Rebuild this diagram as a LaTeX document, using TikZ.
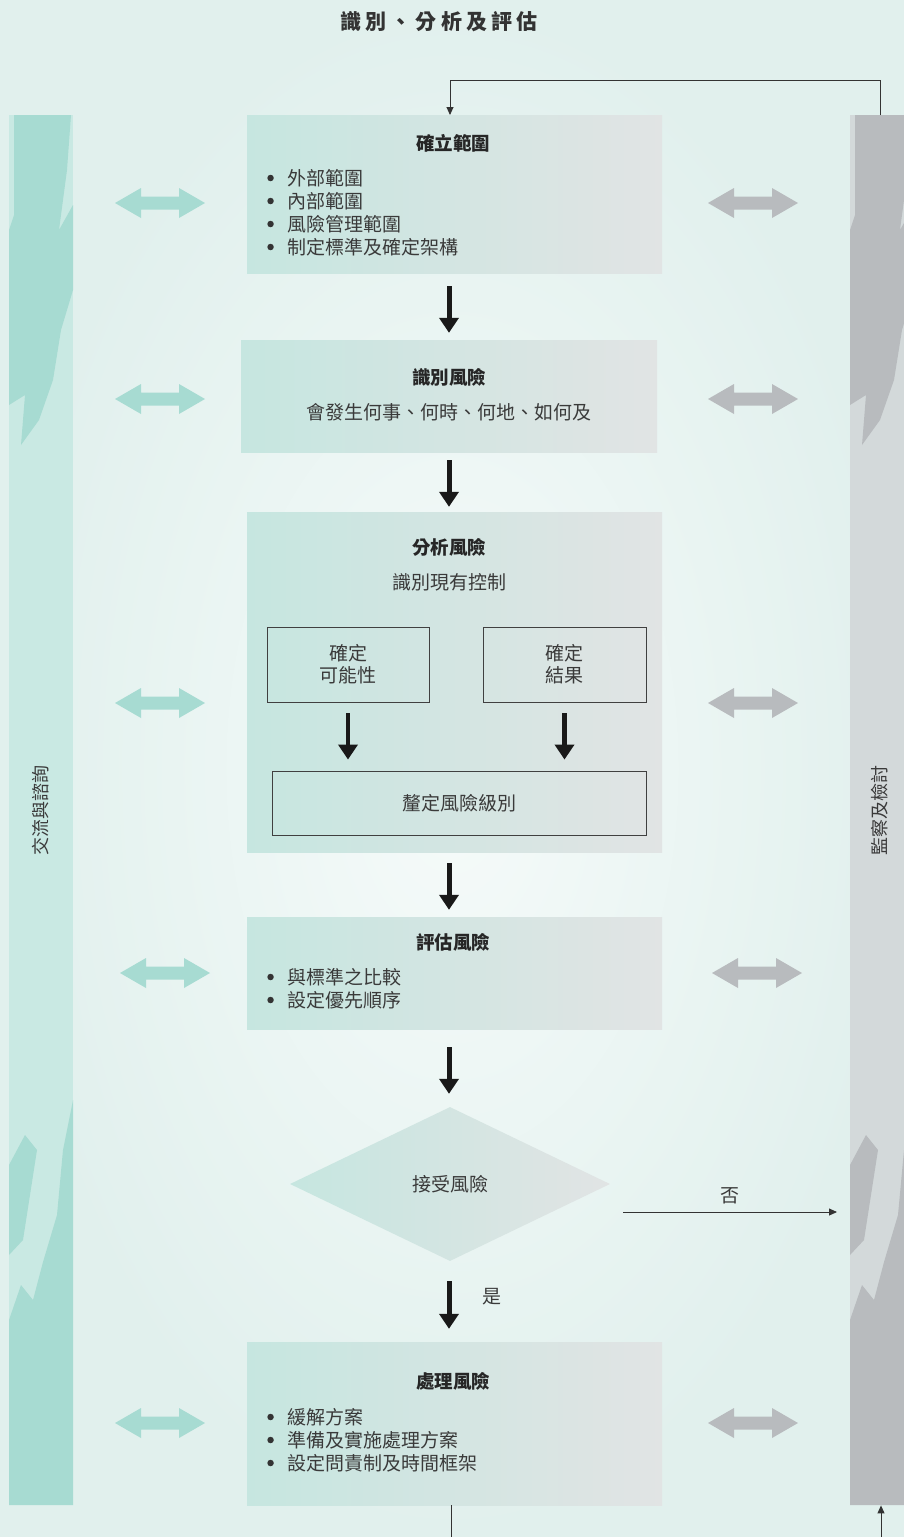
\documentclass[tikz,border=0pt]{standalone}
\usepackage{fontspec}
\setmainfont{Noto Sans CJK TC}
\usetikzlibrary{arrows.meta,shapes.geometric,calc}
\definecolor{bgout}{HTML}{E1F0ED}
\definecolor{bgin}{HTML}{F6FBFA}
\definecolor{tealdark}{HTML}{A7DBD2}
\definecolor{teallight}{HTML}{C9E9E3}
\definecolor{graydark}{HTML}{B8BBBE}
\definecolor{graylight}{HTML}{D3D9DA}
\definecolor{boxl}{HTML}{C6E6E0}
\definecolor{boxr}{HTML}{E1E4E4}
\definecolor{txt}{HTML}{3A3A3A}
\newcommand\barpatch{%
  \fill (5,115) -- (62,115) -- (58,170) -- (50,230) -- (64,205) -- (64,290)
     -- (52,330) -- (44,380) -- (30,420) -- (12,445) -- (16,395) -- (0,405) -- (0,230) -- (5,215) -- cycle;
  \fill (0,1505) -- (64,1505) -- (64,1100) -- (54,1150) -- (48,1215) -- (34,1262)
     -- (24,1300) -- (12,1285) -- (0,1320) -- cycle;
  \fill (0,1165) -- (16,1135) -- (28,1150) -- (14,1240) -- (0,1255) -- cycle;
}
\tikzset{
  box/.style={rectangle, inner sep=0pt, left color=boxl, right color=boxr, draw=none},
  sub/.style={rectangle, draw=black!75, line width=0.9pt, inner sep=0pt},
  ttl/.style={font=\fontsize{18.5}{20}\selectfont\bfseries, text=black!85, inner sep=0pt},
  body/.style={font=\fontsize{19}{22}\selectfont, text=txt, inner sep=0pt},
  bulletdot/.style={circle, fill=black!80, minimum size=6.5pt, inner sep=0pt},
  item/.style={body, anchor=west, label={[bulletdot, label distance=13pt]left:{}}},
  bigarrow/.style={line width=5pt, draw=black!90, -{Triangle[width=19pt,length=15pt]}},
  fline/.style={line width=0.9pt, draw=black!80},
  smalltip/.style={-{Triangle[width=7pt,length=8pt]}},
  sidetext/.style={font=\fontsize{18}{18}\selectfont, text=txt, rotate=90, inner sep=0pt},
  dbl/.pic={\fill[#1] (-45,0) -- (-19,-15) -- (-19,-6.5) -- (19,-6.5) -- (19,-15)
     -- (45,0) -- (19,15) -- (19,6.5) -- (-19,6.5) -- (-19,15) -- cycle;}
}
\begin{document}
\begin{tikzpicture}[x=1pt,y=-1pt]
\useasboundingbox (0,0) rectangle (904,1537);
\shade[inner color=bgin, outer color=bgout] (0,0) rectangle (904,1537);
% title
\node[font=\fontsize{21}{21}\selectfont\bfseries\addfontfeature{LetterSpace=20}, text=black!80, inner sep=0pt] (title) at (439,22) {識別、分析及評估};
% side bars
\node[rectangle, fill=teallight, minimum width=64pt, minimum height=1390pt, inner sep=0pt, anchor=north west] (lbar) at (9,115) {};
\begin{scope}
  \clip (lbar.north west) rectangle (lbar.south east);
  \begin{scope}[shift={(9,0)}, fill=tealdark]\barpatch\end{scope}
\end{scope}
\node[rectangle, fill=graylight, minimum width=54pt, minimum height=1390pt, inner sep=0pt, anchor=north west] (rbar) at (850,115) {};
\begin{scope}
  \clip (rbar.north west) rectangle (rbar.south east);
  \begin{scope}[shift={(850,0)}, fill=graydark]\barpatch\end{scope}
\end{scope}
\node[sidetext] (ltxt) at (41,810) {交流與諮詢};
\node[sidetext] (rtxt) at (880,810) {監察及檢討};
% boxes
\node[box, minimum width=415pt, minimum height=158pt] (b1) at (454.5,194) {};
\node[box, minimum width=416pt, minimum height=112pt] (b2) at (449,396) {};
\node[box, minimum width=415pt, minimum height=340pt] (b3) at (454.5,682) {};
\node[box, minimum width=415pt, minimum height=112pt] (b4) at (454.5,973) {};
\node[diamond, aspect=2.08, minimum width=320pt, minimum height=154pt, inner sep=0pt, left color=boxl, right color=boxr] (dia) at (450,1184) {};
\node[box, minimum width=415pt, minimum height=163pt] (b5) at (454.5,1423.5) {};
% box 1
\node[ttl] (t1) at (453,143) {確立範圍};
\node[item] (i11) at (287,178) {外部範圍};
\node[item] (i12) at (287,201) {內部範圍};
\node[item] (i13) at (287,224) {風險管理範圍};
\node[item] (i14) at (287,247) {制定標準及確定架構};
% box 2
\node[ttl] (t2) at (449,377) {識別風險};
\node[body] (d2) at (449,412) {會發生何事、何時、何地、如何及};
% box 3
\node[ttl] (t3) at (449,547) {分析風險};
\node[body] (d3) at (449,582) {識別現有控制};
\node[sub, minimum width=162pt, minimum height=75pt] (s1) at (348,664.5) {};
\node[sub, minimum width=163pt, minimum height=75pt] (s2) at (564.5,664.5) {};
\node[sub, minimum width=374pt, minimum height=64pt] (s3) at (459,803) {};
\node[body, align=center] (s1t) at (s1.center) {確定\\可能性};
\node[body, align=center] (s2t) at (s2.center) {確定\\結果};
\node[body] (s3t) at (s3.center) {釐定風險級別};
% box 4
\node[ttl] (t4) at (453,942) {評估風險};
\node[item] (i41) at (287,977) {與標準之比較};
\node[item] (i42) at (287,1000) {設定優先順序};
% diamond text
\node[body] (dt) at (dia.center) {接受風險};
% box 5
\node[ttl] (t5) at (453,1381) {處理風險};
\node[item] (i51) at (287,1417) {緩解方案};
\node[item] (i52) at (287,1440) {準備及實施處理方案};
\node[item] (i53) at (287,1463) {設定問責制及時間框架};
% main arrows
\coordinate (col) at (449,0);
\draw[bigarrow, shorten <=13pt, shorten >=7pt] (b1.south -| col) -- (b2.north -| col);
\draw[bigarrow, shorten <=8pt, shorten >=5pt] (b2.south -| col) -- (b3.north -| col);
\draw[bigarrow, shorten <=11pt, shorten >=7pt] (b3.south -| col) -- (b4.north -| col);
\draw[bigarrow, shorten <=18pt, shorten >=13pt] (b4.south -| col) -- (dia.north -| col);
\draw[bigarrow, shorten <=20pt, shorten >=13pt] (dia.south -| col) -- (b5.north -| col);
\node[body] (yes) at (492,1297) {是};
\draw[bigarrow, line width=4.5pt, shorten <=11pt, shorten >=11pt] (s1.south) -- (s3.north -| s1.south);
\draw[bigarrow, line width=4.5pt, shorten <=11pt, shorten >=11pt] (s2.south) -- (s3.north -| s2.south);
% no arrow
\coordinate (no1) at (623,1212);
\draw[fline, smalltip, shorten >=13pt] (no1) -- (rbar.west |- no1);
\node[body] (no) at (730,1196) {否};
% feedback loop
\coordinate (fb) at (880,80);
\coordinate (b1in) at (450,115);
\draw[fline, smalltip] (rbar.north -| fb) -- (fb) -| (b1in);
\coordinate (bot1) at (451,1537);
\coordinate (bot2) at (881,1537);
\draw[fline] (b5.south -| bot1) -- (bot1);
\draw[fline, smalltip] (bot2) -- (rbar.south -| bot2);
% double arrows
\foreach \y/\xl/\xr in {203/160/753, 399/160/753, 703/160/753, 973/165/757, 1423/160/753}{
  \pic at (\xl,\y) {dbl=tealdark};
  \pic at (\xr,\y) {dbl=graydark};
}
\end{tikzpicture}
\end{document}
